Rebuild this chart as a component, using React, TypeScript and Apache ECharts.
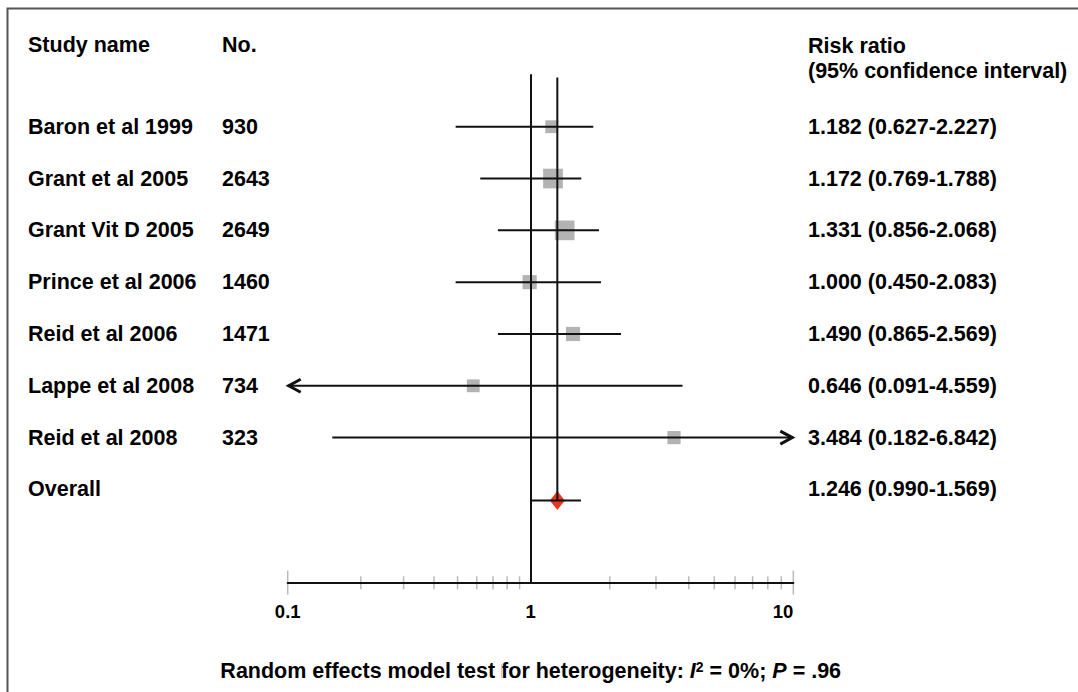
import React, { useEffect, useRef } from 'react';
import * as echarts from 'echarts';

// ---------------- data ----------------
const studies = [
  'Baron et al 1999',
  'Grant et al 2005',
  'Grant Vit D 2005',
  'Prince et al 2006',
  'Reid et al 2006',
  'Lappe et al 2008',
  'Reid et al 2008',
];
const participants = ['930', '2643', '2649', '1460', '1471', '734', '323'];
const riskRatioLabels = [
  '1.182 (0.627-2.227)',
  '1.172 (0.769-1.788)',
  '1.331 (0.856-2.068)',
  '1.000 (0.450-2.083)',
  '1.490 (0.865-2.569)',
  '0.646 (0.091-4.559)',
  '3.484 (0.182-6.842)',
];
const overallName = 'Overall';
const overallLabel = '1.246 (0.990-1.569)';

// plotted positions (risk ratio scale)
const estimates = [1.202, 1.216, 1.347, 0.99, 1.449, 0.58, 3.513];
const lowerBounds = [0.491, 0.62, 0.733, 0.491, 0.733, 0.1, 0.1526];
const upperBounds = [1.731, 1.558, 1.82, 1.852, 2.207, 3.785, 10];
const weights = [9.8, 23.1, 23.1, 11.9, 11.9, 9.8, 10.3];

const overallEstimate = 1.263;
const overallLower = 1.0;
const overallUpper = 1.554;

const minorTicksLeft = [0.2, 0.3, 0.4, 0.5, 0.6, 0.7, 0.8, 0.9];
const minorTicksRight = [2, 3, 4, 5, 6, 7, 8, 9];
const endTicksLeft = [0.1];
const endTicksRight = [10];

const headerStudy = 'Study name';
const headerNo = 'No.';
const headerRR1 = 'Risk ratio';
const headerRR2 = '(95% confidence interval)';

// ---------------- style ----------------
const FONT = "'Liberation Sans', Arial, Helvetica, sans-serif";
const ROW_FONT = 21.5;
const AXIS_FONT = 18.5;
const FOOT_FONT = 21.5;
const INK = '#111111';
const BOX = '#b3b3b3';
const DIAMOND = '#e8361f';
const TICK = '#aaaaaa';
const Y_MIN = -1;
const Y_MAX = 8.8;

export default function App() {
  const ref = useRef<HTMLDivElement>(null);

  useEffect(() => {
    document.body.style.margin = '0';
    const chart = echarts.init(ref.current as HTMLDivElement, null, { renderer: 'svg' });

    const rowData: any[] = studies.map((_, i) => [
      estimates[i], i, lowerBounds[i], upperBounds[i], weights[i], 0,
    ]);
    rowData.push([overallEstimate, studies.length, overallLower, overallUpper, 0, 1]);

    const makeRender = (xmin: number, xmax: number, side: 'left' | 'right') =>
      (params: any, api: any) => {
        const est = api.value(0);
        const row = api.value(1);
        const lo = api.value(2);
        const hi = api.value(3);
        const w = api.value(4);
        const kind = api.value(5);
        const dy = kind === 1 ? 11 : 0;
        const children: any[] = [];
        const inRange = side === 'left' ? est >= xmin && est < xmax : est >= xmin && est <= xmax;
        if (inRange) {
          const p = api.coord([est, row]);
          const y = p[1] + dy;
          if (kind === 0) {
            const s = 4.1 * Math.sqrt(w);
            children.push({
              type: 'rect',
              shape: { x: p[0] - s / 2, y: y - s / 2, width: s, height: s },
              style: { fill: BOX },
            });
          } else {
            children.push({
              type: 'polygon',
              shape: { points: [[p[0], y - 9.5], [p[0] + 7.5, y], [p[0], y + 9.5], [p[0] - 7.5, y]] },
              style: { fill: DIAMOND },
            });
            const top = api.coord([est, Y_MIN]);
            children.push({
              type: 'line',
              shape: { x1: p[0], y1: top[1] + 2.5, x2: p[0], y2: y },
              style: { stroke: INK, lineWidth: 2 },
            });
          }
        }
        const segLo = Math.max(lo, xmin);
        const segHi = Math.min(hi, xmax);
        if (segLo < segHi) {
          const a = api.coord([segLo, row]);
          const b = api.coord([segHi, row]);
          children.push({
            type: 'line',
            shape: { x1: a[0], y1: a[1] + dy, x2: b[0], y2: b[1] + dy },
            style: { stroke: INK, lineWidth: 2 },
          });
        }
        if (side === 'left' && lo <= xmin) {
          const a = api.coord([xmin, row]);
          children.push({
            type: 'polyline',
            shape: { points: [[a[0] + 13, a[1] + dy - 6.5], [a[0] + 1, a[1] + dy], [a[0] + 13, a[1] + dy + 6.5]] },
            style: { stroke: INK, lineWidth: 3, fill: 'none' },
          });
        }
        if (side === 'right' && hi >= xmax) {
          const a = api.coord([xmax, row]);
          children.push({
            type: 'polyline',
            shape: { points: [[a[0] - 13, a[1] + dy - 6.5], [a[0] - 1, a[1] + dy], [a[0] - 13, a[1] + dy + 6.5]] },
            style: { stroke: INK, lineWidth: 3, fill: 'none' },
          });
        }
        return { type: 'group', children };
      };

    const isRow = (v: number) => Math.abs(v - Math.round(v)) < 1e-6;

    const option: any = {
      animation: false,
      backgroundColor: '#ffffff',
      textStyle: { fontFamily: FONT },
      grid: [
        { left: 287.7, right: 547.3, top: 74.9, bottom: 109.3, containLabel: false },
        { left: 530.7, right: 284.7, top: 74.9, bottom: 109.3, containLabel: false },
      ],
      xAxis: [
        {
          type: 'log', logBase: 10, gridIndex: 0, min: 0.1, max: 1, z: 3,
          axisLine: { show: true, onZero: false, lineStyle: { color: INK, width: 2 } },
          axisTick: { show: false },
          splitLine: { show: false },
          axisLabel: {
            margin: 19, fontSize: AXIS_FONT, fontWeight: 'bold', color: '#000', fontFamily: FONT,
            formatter: (v: number) => (v < 0.5 ? '0.1' : ''),
          },
        },
        {
          type: 'log', logBase: 10, gridIndex: 1, min: 1, max: 10, z: 3,
          axisLine: { show: true, onZero: false, lineStyle: { color: INK, width: 2 } },
          axisTick: { show: false },
          splitLine: { show: false },
          axisLabel: {
            margin: 19, fontSize: AXIS_FONT, fontWeight: 'bold', color: '#000', fontFamily: FONT,
            alignMaxLabel: 'right',
            formatter: (v: number) => (v < 5 ? '1' : '10'),
          },
        },
      ],
      yAxis: [
        {
          type: 'value', gridIndex: 0, inverse: true, min: Y_MIN, max: Y_MAX, interval: 1,
          axisLine: { show: false }, axisTick: { show: false }, splitLine: { show: false },
          axisLabel: {
            align: 'left', margin: 287.7 - 28,
            formatter: (v: number) => {
              if (!isRow(v)) return '';
              const i = Math.round(v);
              if (i >= 0 && i < studies.length) return `{n|${studies[i]}}{c|${participants[i]}}`;
              if (i === studies.length) return `{n|${overallName}}`;
              return '';
            },
            rich: {
              n: { width: 194, align: 'left', fontSize: ROW_FONT, fontWeight: 'bold', color: '#000', fontFamily: FONT },
              c: { align: 'left', fontSize: ROW_FONT, fontWeight: 'bold', color: '#000', fontFamily: FONT },
            },
          },
        },
        {
          type: 'value', gridIndex: 1, inverse: true, min: Y_MIN, max: Y_MAX, interval: 1,
          position: 'left', z: 10,
          axisLine: { show: true, onZero: false, lineStyle: { color: INK, width: 2 } },
          axisTick: { show: false }, splitLine: { show: false }, axisLabel: { show: false },
        },
        {
          type: 'value', gridIndex: 1, inverse: true, min: Y_MIN, max: Y_MAX, interval: 1,
          position: 'right',
          axisLine: { show: false }, axisTick: { show: false }, splitLine: { show: false },
          axisLabel: {
            margin: 808 - 793.3, align: 'left',
            fontSize: ROW_FONT, fontWeight: 'bold', color: '#000', fontFamily: FONT,
            formatter: (v: number) => {
              if (!isRow(v)) return '';
              const i = Math.round(v);
              if (i >= 0 && i < studies.length) return riskRatioLabels[i];
              if (i === studies.length) return overallLabel;
              return '';
            },
          },
        },
      ],
      series: [
        {
          type: 'scatter', xAxisIndex: 0, yAxisIndex: 0, z: 1, clip: false, silent: true,
          symbol: 'rect', symbolSize: [1.5, 13],
          itemStyle: { color: TICK },
          data: minorTicksLeft.map((v) => [v, Y_MAX]),
        },
        {
          type: 'scatter', xAxisIndex: 0, yAxisIndex: 0, z: 1, clip: false, silent: true,
          symbol: 'rect', symbolSize: [1.5, 24],
          itemStyle: { color: TICK },
          data: endTicksLeft.map((v) => [v, Y_MAX]),
        },
        {
          type: 'scatter', xAxisIndex: 1, yAxisIndex: 1, z: 1, clip: false, silent: true,
          symbol: 'rect', symbolSize: [1.5, 13],
          itemStyle: { color: TICK },
          data: minorTicksRight.map((v) => [v, Y_MAX]),
        },
        {
          type: 'scatter', xAxisIndex: 1, yAxisIndex: 1, z: 1, clip: false, silent: true,
          symbol: 'rect', symbolSize: [1.5, 24],
          itemStyle: { color: TICK },
          data: endTicksRight.map((v) => [v, Y_MAX]),
        },
        {
          type: 'custom', xAxisIndex: 0, yAxisIndex: 0, clip: false, z: 4,
          renderItem: makeRender(0.1, 1, 'left'),
          encode: { x: 0, y: 1 },
          data: rowData,
        },
        {
          type: 'custom', xAxisIndex: 1, yAxisIndex: 1, clip: false, z: 4,
          renderItem: makeRender(1, 10, 'right'),
          encode: { x: 0, y: 1 },
          data: rowData,
        },
      ],
      graphic: [
        {
          type: 'rect', silent: true, z: 0,
          shape: { x: 7.5, y: 8.5, width: 1100, height: 720 },
          style: { fill: 'none', stroke: '#555555', lineWidth: 2 },
        },
        {
          type: 'text', x: 28, y: 45,
          style: { text: headerStudy, fontSize: ROW_FONT, fontWeight: 'bold', fontFamily: FONT, fill: '#000', align: 'left', verticalAlign: 'middle' },
        },
        {
          type: 'text', x: 222, y: 45,
          style: { text: headerNo, fontSize: ROW_FONT, fontWeight: 'bold', fontFamily: FONT, fill: '#000', align: 'left', verticalAlign: 'middle' },
        },
        {
          type: 'text', x: 808, y: 46,
          style: { text: headerRR1, fontSize: ROW_FONT, fontWeight: 'bold', fontFamily: FONT, fill: '#000', align: 'left', verticalAlign: 'middle' },
        },
        {
          type: 'text', x: 808, y: 71,
          style: { text: headerRR2, fontSize: ROW_FONT, fontWeight: 'bold', fontFamily: FONT, fill: '#000', align: 'left', verticalAlign: 'middle' },
        },
        {
          type: 'text', x: 530.7, y: 671,
          style: {
            text: '{b|Random effects model test for heterogeneity: }{i|I}{s|2}{b| = 0%; }{i|P}{b| = .96}',
            align: 'center', verticalAlign: 'middle', fill: '#000',
            rich: {
              b: { fontSize: FOOT_FONT, fontWeight: 'bold', fontFamily: FONT, fill: '#000' },
              i: { fontSize: FOOT_FONT, fontWeight: 'bold', fontStyle: 'italic', fontFamily: FONT, fill: '#000' },
              s: { fontSize: 14, fontWeight: 'bold', fontFamily: FONT, fill: '#000', verticalAlign: 'top' },
            },
          },
        },
        {
          type: 'line', silent: true,
          shape: { x1: 501.7, y1: 664, x2: 501.7, y2: 678 },
          style: { stroke: '#c8c8c8', lineWidth: 1.5 },
        },
      ],
    };

    chart.setOption(option);
    return () => chart.dispose();
  }, []);

  return <div ref={ref} style={{ width: 1078, height: 692 }} />;
}
